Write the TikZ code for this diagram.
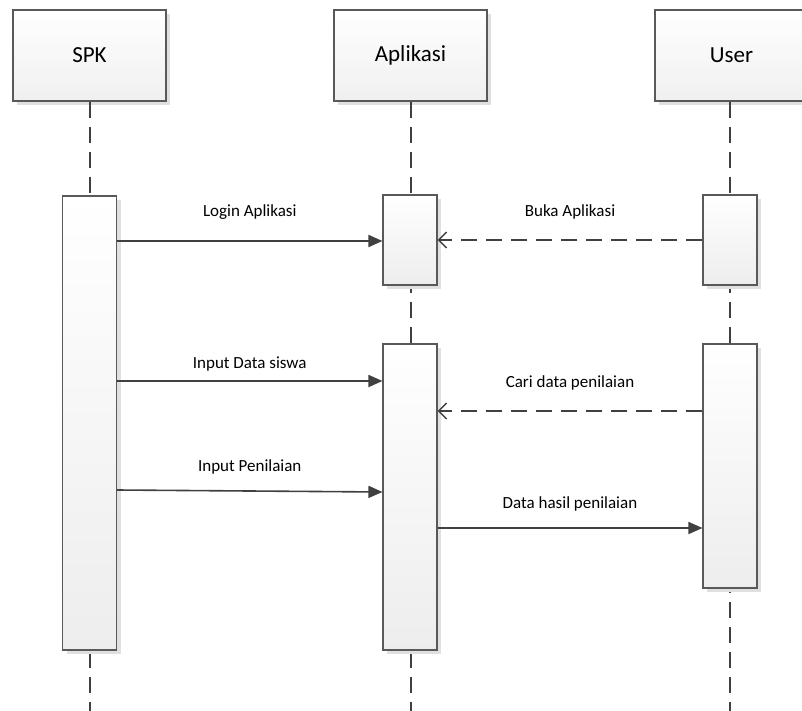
\documentclass[tikz,border=0pt]{standalone}
\usepackage{fontspec}
\setmainfont{Carlito}
\usetikzlibrary{arrows.meta,shadows,calc}
\begin{document}
\begin{tikzpicture}[x=1pt,y=-1pt,
  objbox/.style={draw=black!65,line width=1.1pt,top color=white,bottom color=black!6,
    drop shadow={shadow xshift=4pt,shadow yshift=-4pt,fill=black!12,opacity=1},
    minimum width=153pt,minimum height=91pt,inner sep=0pt,font=\fontsize{23}{26}\selectfont},
  actbox/.style={draw=black!65,line width=1.1pt,top color=white,bottom color=black!7,
    drop shadow={shadow xshift=4pt,shadow yshift=-4pt,fill=black!12,opacity=1},
    minimum width=54pt,inner sep=0pt},
  lifeline/.style={draw=black!75,line width=2pt,dash pattern=on 16pt off 9pt},
  msg/.style={draw=black!75,line width=1.6pt,-{Triangle[length=14pt,width=12pt]}},
  reply/.style={draw=black!75,line width=1.6pt,dash pattern=on 16pt off 9pt,
    -{Straight Barb[length=8pt,width=16pt,line width=1.4pt]}},
  lbl/.style={font=\fontsize{17}{19}\selectfont,text=black,midway,anchor=center}]
\useasboundingbox (0,0) rectangle (802,711);
\fill[white] (0,0) rectangle (802,711);
\begin{scope}
\clip (0,0) rectangle (802,711);
% objects
\node[objbox] (spk) at (89.5,55.5) {SPK};
\node[objbox] (apl) at (410.5,55.5) {Aplikasi};
\node[objbox] (usr) at (731.5,55.5) {User};
% lifelines
\coordinate (spkend) at (89.5,711);
\coordinate (aplend) at (410.5,711);
\coordinate (usrend) at (730,711);
\draw[lifeline] (spk.south) -- (spkend);
\draw[lifeline] (apl.south) -- (aplend);
\draw[lifeline] (usr.south -| usrend) -- (usrend);
% activations
\node[actbox,minimum height=454pt] (spkact) at (89.5,423) {};
\node[actbox,minimum height=90pt] (aplact1) at (410,240) {};
\node[actbox,minimum height=90pt] (usract1) at (730,240) {};
\node[actbox,minimum height=306pt] (aplact2) at (410,497) {};
\node[actbox,minimum height=244pt] (usract2) at (730,466) {};
\end{scope}
% messages
\draw[msg] (spkact.east |- 0,241) -- (aplact1.west |- 0,241)
  node[lbl,yshift=29pt] {Login Aplikasi};
\draw[reply] (usract1.west |- 0,240) -- (aplact1.east |- 0,240)
  node[lbl,yshift=28pt] {Buka Aplikasi};
\draw[msg] (spkact.east |- 0,381) -- (aplact2.west |- 0,381)
  node[lbl,yshift=17pt] {Input Data siswa};
\draw[reply] (usract2.west |- 0,411) -- (aplact2.east |- 0,411)
  node[lbl,yshift=28pt] {Cari data penilaian};
\draw[msg] (spkact.east |- 0,490) -- (aplact2.west |- 0,492)
  node[lbl,yshift=24pt] {Input Penilaian};
\draw[msg] (aplact2.east |- 0,528) -- (usract2.west |- 0,528)
  node[lbl,yshift=24pt] {Data hasil penilaian};
\end{tikzpicture}
\end{document}
